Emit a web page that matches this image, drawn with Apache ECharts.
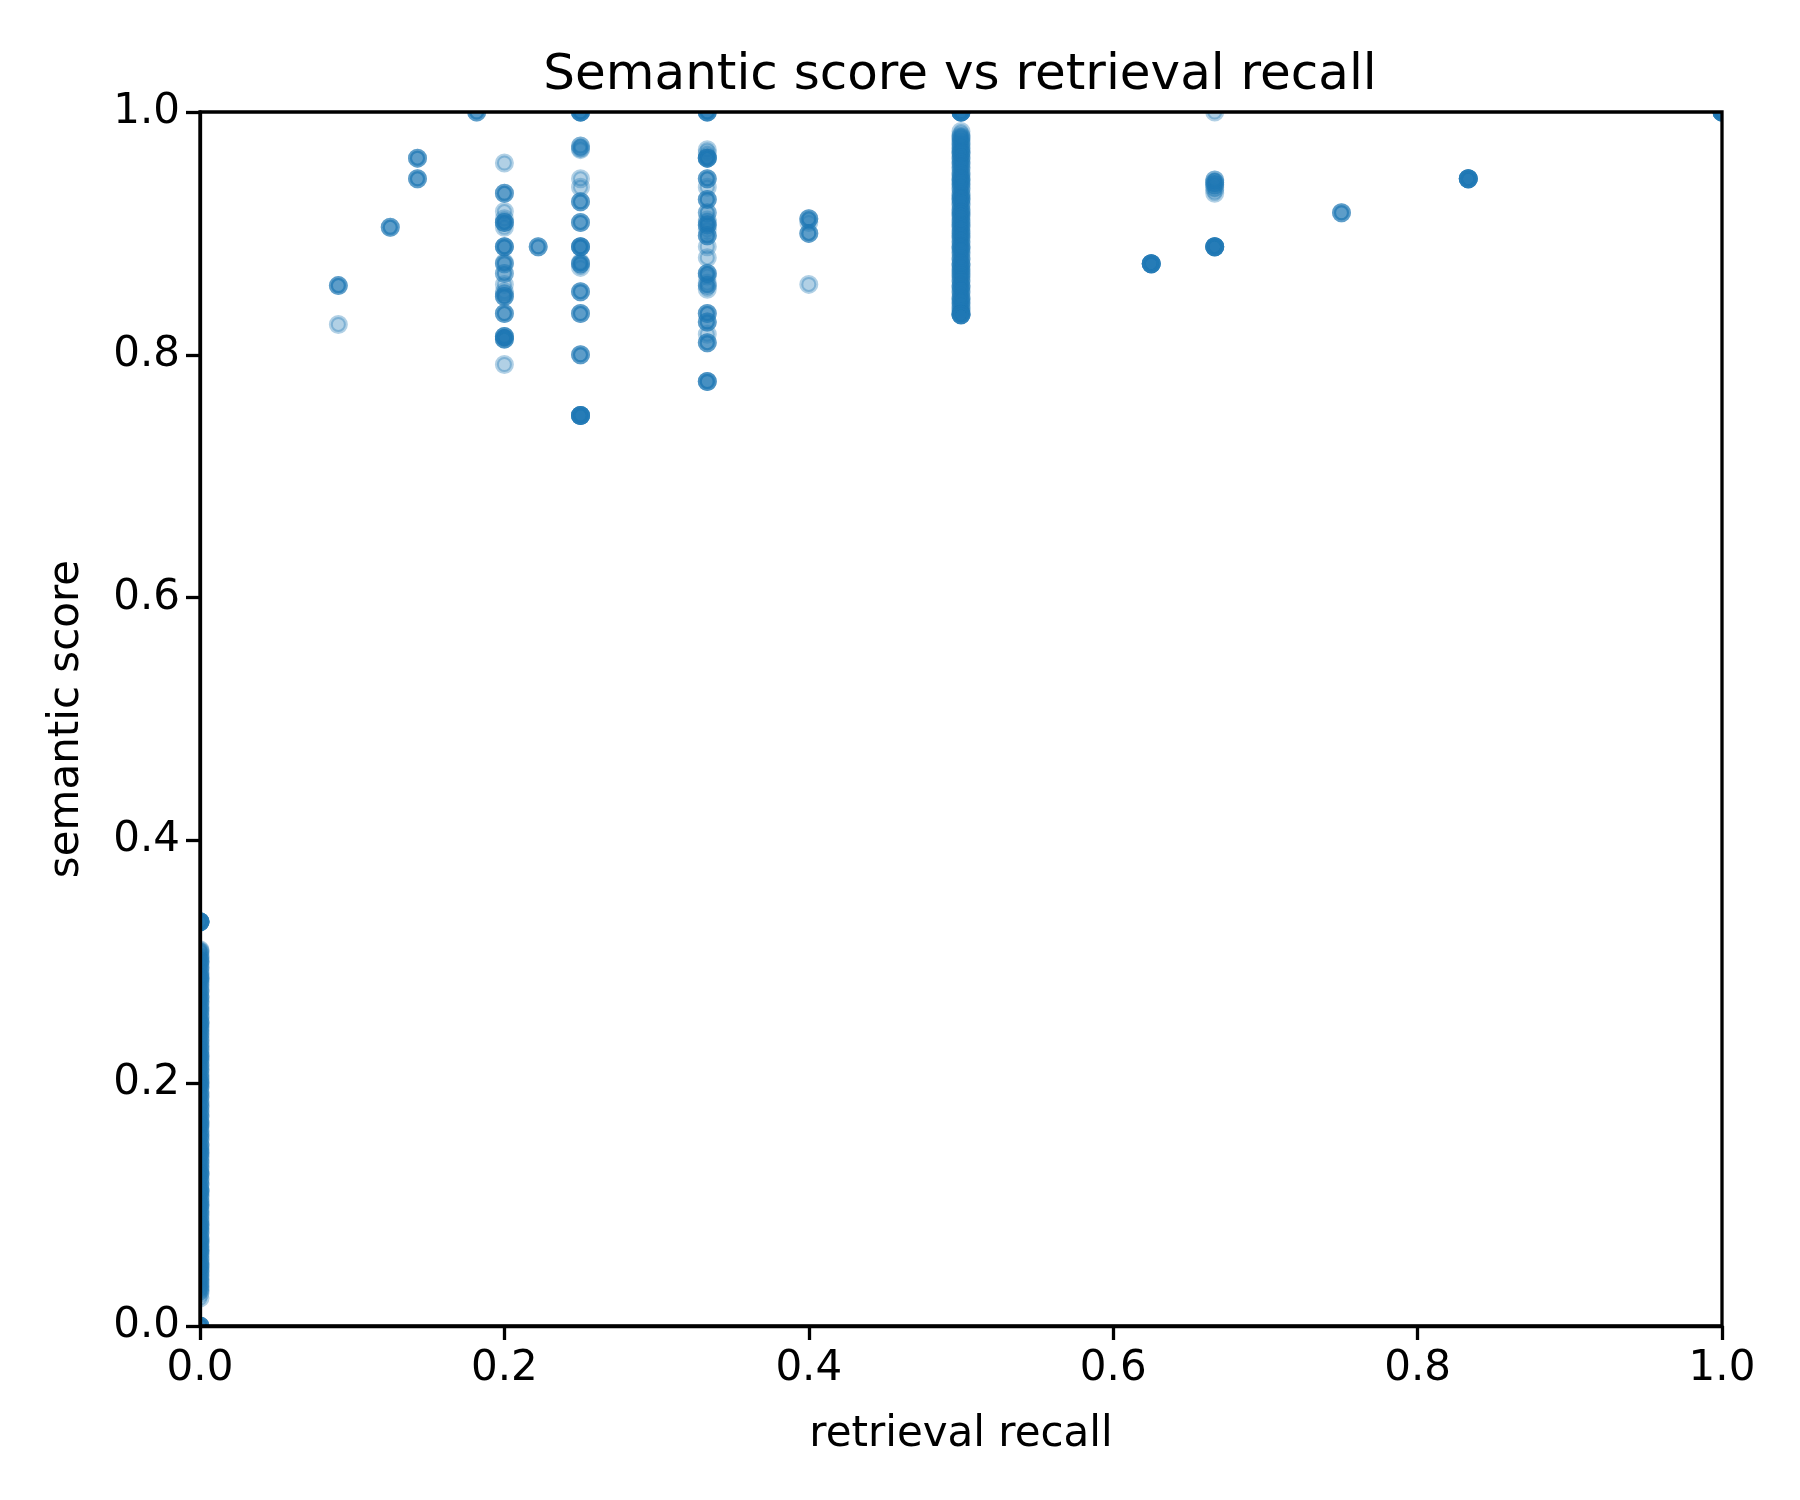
<!DOCTYPE html>
<html>
<head>
<meta charset="utf-8">
<script src="https://cdn.jsdelivr.net/npm/echarts@6/dist/echarts.min.js"></script>
<style>
  html, body { margin: 0; padding: 0; background: #fff; }
  #chart { width: 1800px; height: 1500px; }
</style>
</head>
<body>
<div id="chart"></div>
<script>
// recall levels found in the data
const recallLevels = [0, 0.0909, 0.125, 0.1429, 0.1818, 0.2, 0.2222, 0.25, 0.3333, 0.4, 0.5, 0.625, 0.6667, 0.75, 0.8333, 1.0];

// semantic scores, one list per recall level (same order); repeated values = overlapping samples
const scoresAt0 = [0.333, 0.333, 0.333, 0.333, 0.333, 0.333, 0.333, 0.333,
  0.0, 0.0, 0.0, 0.0, 0.0, 0.0,
  0.310, 0.309, 0.306, 0.303, 0.301, 0.298, 0.296, 0.293, 0.290, 0.288, 0.286, 0.283, 0.281, 0.277,
  0.275, 0.272, 0.270, 0.268, 0.265, 0.262, 0.259, 0.257, 0.254, 0.251, 0.249, 0.246, 0.243, 0.241,
  0.238, 0.236, 0.233, 0.230, 0.228, 0.225, 0.222, 0.220, 0.217, 0.214, 0.212, 0.209, 0.206, 0.204,
  0.201, 0.198, 0.196, 0.193, 0.190, 0.188, 0.185, 0.182, 0.180, 0.177, 0.174, 0.172, 0.169, 0.166,
  0.164, 0.161, 0.158, 0.156, 0.153, 0.150, 0.148, 0.145, 0.142, 0.140, 0.137, 0.134, 0.132, 0.129,
  0.126, 0.124, 0.121, 0.118, 0.116, 0.113, 0.110, 0.108, 0.105, 0.102, 0.100, 0.097, 0.094, 0.092,
  0.089, 0.086, 0.084, 0.081, 0.078, 0.076, 0.073, 0.070, 0.068, 0.065, 0.062, 0.060, 0.057, 0.054,
  0.052, 0.049, 0.046, 0.044, 0.041, 0.038, 0.036, 0.033, 0.030, 0.027, 0.023,
  0.308, 0.304, 0.300, 0.295, 0.291, 0.287, 0.284, 0.279, 0.276, 0.271, 0.267, 0.263, 0.260, 0.255,
  0.250, 0.247, 0.244, 0.240, 0.235, 0.231, 0.227, 0.223, 0.219, 0.215, 0.211, 0.207, 0.203, 0.200,
  0.197, 0.192, 0.189, 0.184, 0.181, 0.176, 0.173, 0.168, 0.165, 0.160, 0.157, 0.154, 0.149, 0.146,
  0.143, 0.139, 0.135, 0.131, 0.127, 0.125, 0.120, 0.117, 0.112, 0.111, 0.107, 0.103, 0.099, 0.095,
  0.091, 0.087, 0.083, 0.080, 0.077, 0.072, 0.069, 0.066, 0.063, 0.059, 0.055, 0.051, 0.048, 0.045,
  0.042, 0.039, 0.035, 0.032, 0.029,
  0.300, 0.286, 0.250, 0.222, 0.200, 0.167, 0.143, 0.125, 0.111, 0.100, 0.083, 0.071, 0.062, 0.050];
const scoresAt1of11 = [0.857, 0.857, 0.857, 0.825];
const scoresAt1of8 = [0.905, 0.905, 0.905];
const scoresAt1of7 = [0.962, 0.962, 0.962, 0.945, 0.945, 0.945];
const scoresAt2of11 = [1.0, 1.0, 1.0];
const scoresAt1of5 = [0.958, 0.933, 0.933, 0.933, 0.918, 0.912, 0.909, 0.909, 0.909, 0.909, 0.905,
  0.889, 0.889, 0.889, 0.889, 0.876, 0.875, 0.875, 0.867, 0.867, 0.858, 0.852, 0.850, 0.848, 0.848,
  0.848, 0.834, 0.834, 0.834, 0.815, 0.815, 0.815, 0.815, 0.813, 0.813, 0.813, 0.813, 0.792];
const scoresAt2of9 = [0.889, 0.889, 0.889];
const scoresAt1of4 = [1.0, 1.0, 1.0, 1.0, 1.0, 1.0, 0.972, 0.972, 0.970, 0.969, 0.945, 0.938,
  0.926, 0.926, 0.926, 0.909, 0.909, 0.909, 0.889, 0.889, 0.889, 0.889, 0.889, 0.876, 0.875,
  0.875, 0.875, 0.872, 0.852, 0.852, 0.852, 0.834, 0.834, 0.834, 0.8, 0.8, 0.8,
  0.75, 0.75, 0.75, 0.75, 0.75, 0.75, 0.75, 0.75];
const scoresAt1of3 = [1.0, 1.0, 1.0, 1.0, 1.0, 0.969, 0.966, 0.963, 0.962, 0.962, 0.962, 0.962, 0.962,
  0.945, 0.945, 0.945, 0.938, 0.928, 0.928, 0.928, 0.917, 0.917, 0.911, 0.909, 0.907, 0.907, 0.907,
  0.903, 0.898, 0.898, 0.898, 0.889, 0.880, 0.867, 0.867, 0.867, 0.865, 0.859, 0.857, 0.857, 0.854,
  0.834, 0.834, 0.834, 0.827, 0.827, 0.827, 0.817, 0.810, 0.810, 0.810, 0.778, 0.778, 0.778, 0.778];
const scoresAt2of5 = [0.912, 0.912, 0.912, 0.909, 0.900, 0.900, 0.900, 0.858];
const scoresAt1of2 = [1.0, 1.0, 1.0, 1.0, 1.0, 1.0, 1.0, 1.0,
  0.984, 0.981, 0.979, 0.977, 0.975, 0.973, 0.971, 0.969, 0.967,
  0.965, 0.963, 0.961, 0.959, 0.957, 0.955, 0.952, 0.950, 0.948, 0.946, 0.944, 0.942, 0.940,
  0.938, 0.936, 0.933, 0.931, 0.929, 0.927, 0.925, 0.923, 0.920, 0.918, 0.916, 0.914, 0.912,
  0.909, 0.907, 0.905, 0.903, 0.900, 0.898, 0.896, 0.894, 0.891, 0.889, 0.887, 0.885, 0.882,
  0.880, 0.878, 0.875, 0.873, 0.871, 0.869, 0.867, 0.864, 0.862, 0.860, 0.857, 0.855, 0.853,
  0.851, 0.848, 0.846, 0.844, 0.842, 0.840, 0.838, 0.836, 0.834, 0.833, 0.833,
  0.980, 0.978, 0.974, 0.970, 0.966, 0.962, 0.958, 0.954, 0.949, 0.945, 0.941, 0.937, 0.932,
  0.928, 0.924, 0.919, 0.915, 0.911, 0.906, 0.902, 0.897, 0.893, 0.888, 0.884, 0.879, 0.874,
  0.870, 0.865, 0.861, 0.856, 0.852, 0.847, 0.843, 0.839, 0.835, 0.833, 0.833, 0.833,
  0.967, 0.944, 0.929, 0.917, 0.909, 0.900, 0.889, 0.875, 0.867, 0.857, 0.846, 0.833];
const scoresAt5of8 = [0.875, 0.875, 0.875, 0.875, 0.875, 0.875, 0.875, 0.875];
const scoresAt2of3 = [1.0, 0.944, 0.944, 0.942, 0.942, 0.940, 0.940, 0.938, 0.936, 0.933,
  0.889, 0.889, 0.889, 0.889, 0.889, 0.889, 0.889, 0.889];
const scoresAt3of4 = [0.917, 0.917, 0.917];
const scoresAt5of6 = [0.945, 0.945, 0.945, 0.945, 0.945, 0.945, 0.945, 0.945];
const scoresAt1 = [1.0, 1.0, 1.0, 1.0, 1.0, 1.0, 1.0, 1.0];

const scoreLists = [scoresAt0, scoresAt1of11, scoresAt1of8, scoresAt1of7, scoresAt2of11, scoresAt1of5,
  scoresAt2of9, scoresAt1of4, scoresAt1of3, scoresAt2of5, scoresAt1of2, scoresAt5of8, scoresAt2of3,
  scoresAt3of4, scoresAt5of6, scoresAt1];

const points = [];
for (let i = 0; i < recallLevels.length; i++) {
  for (let j = 0; j < scoreLists[i].length; j++) {
    points.push([recallLevels[i], scoreLists[i][j]]);
  }
}

const font = "DejaVu Sans";
const W = 1800, H = 1500;
const plot = { left: 200, right: 78, top: 112, bottom: 174 };
const chart = echarts.init(document.getElementById("chart"));

const axisCommon = {
  type: "value",
  min: 0,
  max: 1,
  interval: 0.2,
  z: 5,
  nameLocation: "middle",
  nameTextStyle: { fontFamily: font, fontSize: 42, color: "#000" },
  axisLine: { show: true, onZero: false, lineStyle: { color: "#000", width: 3.3 } },
  axisTick: { show: true, inside: false, length: 14, lineStyle: { color: "#000", width: 3.3 } },
  axisLabel: {
    fontFamily: font,
    fontSize: 42,
    color: "#000",
    formatter: v => v.toFixed(1)
  },
  splitLine: { show: false }
};

// white masks outside the axes so markers get clipped at the spines like matplotlib
const maskStyle = { fill: "#fff" };
const masks = [
  { type: "rect", z: 3, silent: true, shape: { x: 0, y: 0, width: plot.left, height: H }, style: maskStyle },
  { type: "rect", z: 3, silent: true, shape: { x: W - plot.right, y: 0, width: plot.right, height: H }, style: maskStyle },
  { type: "rect", z: 3, silent: true, shape: { x: 0, y: 0, width: W, height: plot.top }, style: maskStyle },
  { type: "rect", z: 3, silent: true, shape: { x: 0, y: H - plot.bottom, width: W, height: plot.bottom }, style: maskStyle }
];

chart.setOption({
  animation: false,
  backgroundColor: "#fff",
  title: {
    text: "Semantic score vs retrieval recall",
    left: 955,
    top: 46,
    z: 8,
    textAlign: "center",
    textStyle: { fontFamily: font, fontSize: 50, fontWeight: "normal", color: "#000" }
  },
  graphic: masks,
  grid: Object.assign({
    show: true,
    z: 5,
    borderColor: "#000",
    borderWidth: 3.3,
    backgroundColor: "transparent"
  }, plot),
  xAxis: Object.assign({}, axisCommon, {
    name: "retrieval recall",
    nameGap: 88,
    axisLabel: Object.assign({}, axisCommon.axisLabel, { margin: 22 })
  }),
  yAxis: Object.assign({}, axisCommon, {
    name: "semantic score",
    nameGap: 112,
    axisLabel: Object.assign({}, axisCommon.axisLabel, { margin: 20 })
  }),
  series: [
    {
      type: "scatter",
      z: 2,
      symbol: "circle",
      symbolSize: 15,
      data: points,
      itemStyle: {
        color: "#1f77b4",
        opacity: 0.35,
        borderColor: "#1f77b4",
        borderWidth: 4
      },
      emphasis: { disabled: true }
    }
  ]
});

window.addEventListener("resize", () => chart.resize());
</script>
</body>
</html>
